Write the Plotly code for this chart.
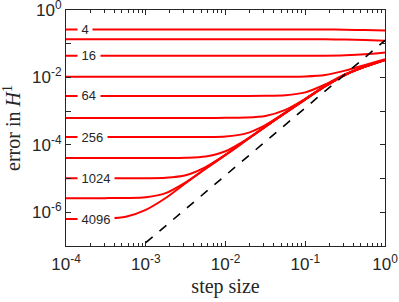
import math
import plotly.graph_objects as go

# step sizes (shared grid)
step = [1e-4, 1.778e-4, 3.162e-4, 5.623e-4, 1e-3, 1.778e-3, 3.162e-3, 5.623e-3,
        1e-2, 1.778e-2, 3.162e-2, 5.623e-2, 0.1, 0.1778, 0.3162, 0.5623, 1.0]

err_4 = [0.263]*14 + [0.260, 0.254, 0.2455]
err_8 = [0.1349]*14 + [0.1334, 0.1288, 0.1230]
err_16 = [4.37e-2]*13 + [4.40e-2, 4.53e-2, 4.84e-2, 5.47e-2]
err_32 = [1.047e-2]*11 + [1.052e-2, 1.072e-2, 1.183e-2, 1.59e-2, 2.34e-2, 3.48e-2]
err_64 = [2.82e-3]*10 + [2.84e-3, 2.96e-3, 3.60e-3, 6.18e-3, 1.24e-2, 2.11e-2, 3.31e-2]
err_128 = [6.31e-4]*8 + [6.32e-4, 6.44e-4, 7.19e-4, 1.09e-3, 2.33e-3, 5.52e-3, 1.20e-2, 2.09e-2, 3.31e-2]
err_256 = [1.70e-4]*7 + [1.71e-4, 1.77e-4, 2.15e-4, 3.86e-4, 9.08e-4, 2.24e-3, 5.50e-3, 1.20e-2, 2.09e-2, 3.31e-2]
err_512 = [4.07e-5]*5 + [4.08e-5, 4.14e-5, 4.52e-5, 6.46e-5, 1.38e-4, 3.49e-4, 8.91e-4, 2.24e-3, 5.50e-3, 1.20e-2, 2.09e-2, 3.31e-2]
err_1024 = [1.023e-5]*4 + [1.028e-5, 1.054e-5, 1.253e-5, 2.20e-5, 5.12e-5, 1.32e-4, 3.47e-4, 8.91e-4, 2.24e-3, 5.50e-3, 1.20e-2, 2.09e-2, 3.31e-2]
err_2048 = [2.63e-6, 2.63e-6, 2.63e-6, 2.66e-6, 2.81e-6, 3.70e-6, 7.71e-6, 1.97e-5, 5.01e-5, 1.32e-4, 3.47e-4, 8.91e-4, 2.24e-3, 5.50e-3, 1.20e-2, 2.09e-2, 3.31e-2]
err_4096 = [6.31e-7, 6.34e-7, 6.49e-7, 7.36e-7, 1.18e-6, 2.65e-6, 7.28e-6, 1.95e-5, 5.01e-5, 1.32e-4, 3.47e-4, 8.91e-4, 2.24e-3, 5.50e-3, 1.20e-2, 2.09e-2, 3.31e-2]

series = [err_4, err_8, err_16, err_32, err_64, err_128, err_256, err_512, err_1024, err_2048, err_4096]
series_N = [4, 8, 16, 32, 64, 128, 256, 512, 1024, 2048, 4096]
labelled_N = [4, 16, 64, 256, 1024, 4096]

# reference slope-2 line
ref_x = [1e-3, 1.0]
ref_y = [1.25e-7, 0.125]

x_tickvals = [1e-4, 1e-3, 1e-2, 1e-1, 1e0]
x_ticktext = ["10<sup>-4</sup>", "10<sup>-3</sup>", "10<sup>-2</sup>", "10<sup>-1</sup>", "10<sup>0</sup>"]
x_minor = [m * 10.0**e for e in (-4, -3, -2, -1) for m in range(2, 10)]
y_tickvals = [1e0, 1e-1, 1e-2, 1e-3, 1e-4, 1e-5, 1e-6, 1e-7]
y_ticktext = ["10<sup>0</sup>", "", "10<sup>-2</sup>", "", "10<sup>-4</sup>", "", "10<sup>-6</sup>", ""]

fig = go.Figure()
for N, ys in zip(series_N, series):
    fig.add_trace(go.Scatter(x=step, y=ys, mode="lines",
                             line=dict(color="#ff0000", width=2, shape="spline", smoothing=0.8),
                             showlegend=False, name=str(N)))
fig.add_trace(go.Scatter(x=ref_x, y=ref_y, mode="lines",
                         line=dict(color="black", width=1.6, dash="dash"), showlegend=False))

for N, ys in zip(series_N, series):
    if N in labelled_N:
        fig.add_annotation(x=-3.862, y=math.log10(ys[0]), xref="x", yref="y",
                           text=" " + str(N) + " ", showarrow=False, xanchor="left", yanchor="middle",
                           bgcolor="white", borderpad=0, height=13,
                           font=dict(family="Liberation Sans, Arial, sans-serif", size=13, color="#262626"))

axis_common = dict(type="log", showgrid=False, zeroline=False, showline=True, linecolor="#262626",
                   linewidth=1, mirror="allticks", ticks="inside", tickcolor="#262626", ticklen=5,
                   automargin=False, ticklabeloverflow="allow",
                   tickfont=dict(family="Liberation Sans, Arial, sans-serif", size=17, color="#262626"))

title_font = dict(family="Liberation Serif, DejaVu Serif, serif", size=20, color="#262626")

fig.update_xaxes(**axis_common, range=[-4, 0], tickvals=x_tickvals, ticktext=x_ticktext,
                 ticklabelstandoff=3,
                 minor=dict(ticks="inside", ticklen=3, tickcolor="#262626", showgrid=False, tickvals=x_minor),
                 title=dict(text="step size", standoff=5, font=title_font))
fig.update_yaxes(**axis_common, range=[-7, 0], tickvals=y_tickvals, ticktext=y_ticktext,
                 title=dict(text="error in <i>H</i><sup>1</sup>", standoff=18, font=title_font))

fig.update_layout(width=399, height=302, margin=dict(l=66, r=14, t=10, b=56),
                  plot_bgcolor="white", paper_bgcolor="white")

fig.write_html("out.html", config={"displayModeBar": False},
               post_script="document.body.style.margin='0';")
